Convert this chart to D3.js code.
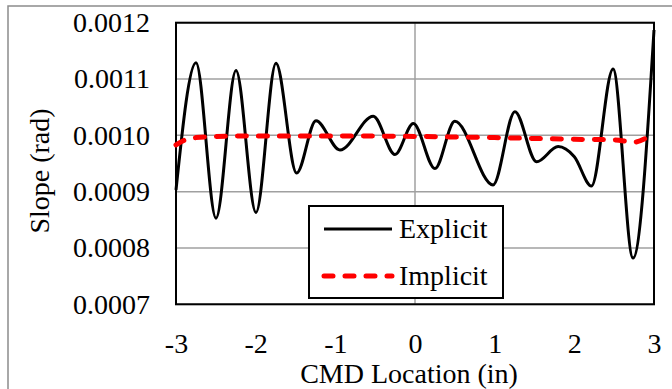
<!DOCTYPE html>
<html><head><meta charset="utf-8">
<script src="https://cdn.jsdelivr.net/npm/d3@7"></script>
<style>html,body{margin:0;padding:0;background:#fff;}svg{display:block;}text{font-family:"Liberation Serif","Times New Roman",serif;fill:#000;}</style>
</head><body>
<svg id="chart" width="672" height="389"></svg>
<script>
const explicitX = [-3, -2.749, -2.498, -2.247, -1.996, -1.745, -1.486, -1.243, -0.942, -0.524, -0.251, -0.021, 0.25, 0.50, 0.98, 1.254, 1.526, 1.797, 2.0, 2.215, 2.486, 2.737, 3.0];
const explicitY = [0.000903, 0.001129, 0.000853, 0.001115, 0.000863, 0.001128, 0.000933, 0.001026, 0.000974, 0.001034, 0.000966, 0.001021, 0.000941, 0.001025, 0.000912, 0.001042, 0.000953, 0.00098, 0.000962, 0.000910, 0.001118, 0.000782, 0.001187];
const implicitX = [-3, -2.9, -2.75, -2.5, -2, -1, 0, 1, 2, 2.5, 2.75, 2.9, 3];
const implicitY = [0.000983, 0.000991, 0.000996, 0.000998, 0.000999, 0.000999, 0.000998, 0.000996, 0.000993, 0.000992, 0.000988, 0.000995, 0.001004];
const xTicks = [-3, -2, -1, 0, 1, 2, 3];
const yTicks = [0.0007, 0.0008, 0.0009, 0.0010, 0.0011, 0.0012];
const seriesNames = ["Explicit", "Implicit"];

const FS = 28;
const svg = d3.select("#chart");
const L = 176, R = 654, T = 22.7, B = 304.3;
const x = d3.scaleLinear().domain([-3, 3]).range([L, R]);
const y = d3.scaleLinear().domain([0.0007, 0.0012]).range([B, T]);

// outer chart border
svg.append("rect").attr("x", 8).attr("y", 6).attr("width", 700).attr("height", 400)
  .attr("fill", "#fff").attr("stroke", "#8c8c8c").attr("stroke-width", 1.5);

// horizontal gridlines
svg.append("g").selectAll("line").data(yTicks).join("line")
  .attr("x1", L).attr("x2", R).attr("y1", d => y(d)).attr("y2", d => y(d))
  .attr("stroke", "#a0a0a0").attr("stroke-width", 1.5);
// vertical axis line at x=0
svg.append("line").attr("x1", x(0)).attr("x2", x(0)).attr("y1", T).attr("y2", B)
  .attr("stroke", "#a0a0a0").attr("stroke-width", 1.5);

// y tick labels
const yAxis = d3.axisLeft(y).tickValues(yTicks).tickFormat(d => d.toFixed(4)).tickSize(0).tickPadding(26);
const gy = svg.append("g").attr("transform", `translate(${L},0)`).call(yAxis);
gy.select(".domain").remove();
gy.selectAll("text").attr("font-size", FS).attr("font-family", "Liberation Serif").attr("fill", "#000");

// x tick labels
const xAxis = d3.axisBottom(x).tickValues(xTicks).tickFormat(d => String(d)).tickSize(0).tickPadding(29);
const gx = svg.append("g").attr("transform", `translate(0,${B})`).call(xAxis);
gx.select(".domain").remove();
gx.selectAll("text").attr("font-size", FS).attr("font-family", "Liberation Serif").attr("fill", "#000");

// plot border
svg.append("rect").attr("x", L).attr("y", T).attr("width", R - L).attr("height", B - T)
  .attr("fill", "none").attr("stroke", "#000").attr("stroke-width", 2);

const line = d3.line().x(d => x(d[0])).y(d => y(d[1])).curve(d3.curveMonotoneX);
const expData = explicitX.map((v, i) => [v, explicitY[i]]);
const impData = implicitX.map((v, i) => [v, implicitY[i]]);

svg.append("path").datum(expData).attr("d", line)
  .attr("fill", "none").attr("stroke", "#000").attr("stroke-width", 3);
svg.append("path").datum(impData).attr("d", line)
  .attr("fill", "none").attr("stroke", "#ff0000").attr("stroke-width", 5)
  .attr("stroke-dasharray", "9,12").attr("stroke-linecap", "round");

// legend
const lg = svg.append("g");
lg.append("rect").attr("x", 309).attr("y", 206).attr("width", 194).attr("height", 92)
  .attr("fill", "#fff").attr("stroke", "#000").attr("stroke-width", 2);
lg.append("line").attr("x1", 324).attr("x2", 392).attr("y1", 229).attr("y2", 229)
  .attr("stroke", "#000").attr("stroke-width", 3);
lg.append("line").attr("x1", 324).attr("x2", 392).attr("y1", 276).attr("y2", 276)
  .attr("stroke", "#ff0000").attr("stroke-width", 5).attr("stroke-dasharray", "9,12").attr("stroke-linecap", "round");
lg.append("text").attr("x", 399).attr("y", 238).attr("font-size", FS).text(seriesNames[0]);
lg.append("text").attr("x", 399).attr("y", 285).attr("font-size", FS).text(seriesNames[1]);

// axis titles
svg.append("text").attr("x", 409).attr("y", 383).attr("text-anchor", "middle").attr("font-size", FS)
  .text("CMD Location (in)");
svg.append("text").attr("transform", "translate(49,171) rotate(-90)").attr("text-anchor", "middle").attr("font-size", FS)
  .text("Slope (rad)");
</script>
</body></html>
